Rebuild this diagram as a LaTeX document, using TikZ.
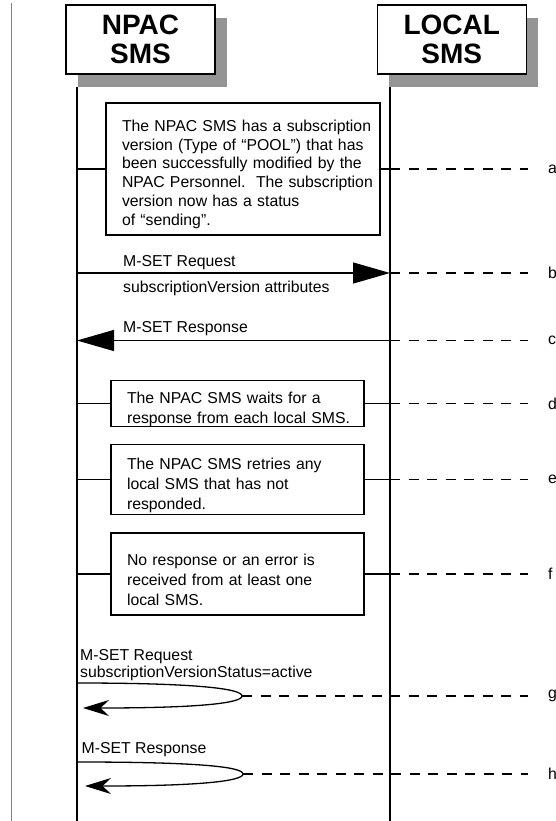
\documentclass[tikz,border=0pt]{standalone}
\usepackage{fontspec}
\setmainfont{Liberation Sans}
\usetikzlibrary{arrows.meta,shadows}

\tikzset{
  actor/.style={draw, line width=1.5pt, fill=white, minimum width=149pt, minimum height=69pt,
    align=center, font=\fontsize{28}{29.4}\selectfont\bfseries, text depth=-7pt,
    drop shadow={shadow xshift=12pt, shadow yshift=-13pt, fill=black!42, opacity=1}},
  note/.style={draw, line width=1.3pt, align=left, inner xsep=4pt, inner ysep=0pt,
    font=\fontsize{15.8}{19.8}\selectfont, execute at begin node={\leftskip=12pt\vskip3pt}},
  life/.style={line width=1.3pt},
  msg/.style={line width=1.3pt, -{Triangle[length=37pt,width=21pt]}},
  self/.style={line width=1.3pt, -{Stealth[length=26pt,width=16pt]}},
  guide/.style={line width=1.2pt, dash pattern=on 10pt off 8.5pt},
  tag/.style={anchor=west, inner xsep=20pt, inner ysep=0pt, font=\fontsize{15.8}{19}\selectfont},
  lbl/.style={anchor=west, inner sep=0pt, align=left, font=\fontsize{15.8}{16.3}\selectfont}
}

\begin{document}
\begin{tikzpicture}[x=1pt, y=-1pt]
\useasboundingbox (0,0) rectangle (556,821);

% margin rule
\draw[black!50, line width=1pt] (11.5,3) -- (11.5,821);

% actors
\node[actor] (npac) at (140.5,39.3) {NPAC\\SMS};
\node[actor] (local) at (451.8,39.3) {LOCAL\\SMS};

% lifelines
\coordinate (nptop) at (77,87);
\coordinate (npbot) at (77,821);
\coordinate (lotop) at (390,87);
\coordinate (lobot) at (390,821);
\draw[life] (nptop) -- (npbot);
\draw[life] (lotop) -- (lobot);

% step letters
\node[tag] (la) at (528,169) {a};
\node[tag] (lb) at (528,273) {b};
\node[tag] (lc) at (528,340.5) {c};
\node[tag] (ld) at (528,403.5) {d};
\node[tag] (le) at (528,479.5) {e};
\node[tag] (lf) at (528,574) {f};
\node[tag] (lg) at (528,696) {g};
\node[tag] (lh) at (528,774) {h};

% notes
\node[note, text width=266pt, minimum height=132pt, font=\fontsize{15.8}{18.8}\selectfont] (na) at (243,169)
  {The NPAC SMS has a subscription\\version (Type of “POOL”) that has\\been successfully modified by the\\NPAC Personnel.\ \ The subscription\\version now has a status\\of “sending”.};
\node[note, text width=245pt, minimum height=46pt] (nd) at (237.5,403.5)
  {The NPAC SMS waits for a\\response from each local SMS.};
\node[note, text width=245pt, minimum height=70pt] (ne) at (237.5,479.5)
  {The NPAC SMS retries any\\local SMS that has not\\responded.};
\node[note, text width=245pt, minimum height=82pt] (nf) at (237.5,574)
  {No response or an error is\\received from at least one\\local SMS.};

\foreach \n/\t in {na/la, nd/ld, ne/le, nf/lf} {
  \draw[life] (\n.west -| nptop) -- (\n.west);
  \draw[life] (\n.east) -- (\n.east -| lotop);
  \draw[guide] (\n.east -| lotop) -- (\t.west);
}

% b: request to local SMS
\node[lbl] (breq) at (123,262.7) {M-SET Request};
\node[lbl] (battr) at (123,288) {subscriptionVersion attributes};
\draw[msg] (lb.west -| nptop) -- (lb.west -| lotop);
\draw[guide] (lb.west -| lotop) -- (lb.west);

% c: response from local SMS
\node[lbl] (cresp) at (123,329) {M-SET Response};
\draw[msg] (lc.west -| lotop) -- (lc.west -| nptop);
\draw[guide] (lc.west -| lotop) -- (lc.west);

% g: request to itself
\node[lbl] (greq) at (80,665) {M-SET Request\\subscriptionVersionStatus=active};
\coordinate (gin) at (77,683);
\coordinate (gtip) at (242,696);
\coordinate (gout) at (83,708);
\draw[self] (gin) .. controls (200,683) and (242,689) .. (gtip)
  .. controls (242,703) and (200,708) .. (gout);
\draw[guide] (gtip) -- (lg.west);

% h: response to itself
\node[lbl] (hresp) at (81.5,750) {M-SET Response};
\coordinate (hin) at (78,762);
\coordinate (htip) at (243,774);
\coordinate (hout) at (85,786);
\draw[self] (hin) .. controls (200,762) and (243,767) .. (htip)
  .. controls (243,781) and (200,786) .. (hout);
\draw[guide] (htip) -- (lh.west);
\end{tikzpicture}
\end{document}
